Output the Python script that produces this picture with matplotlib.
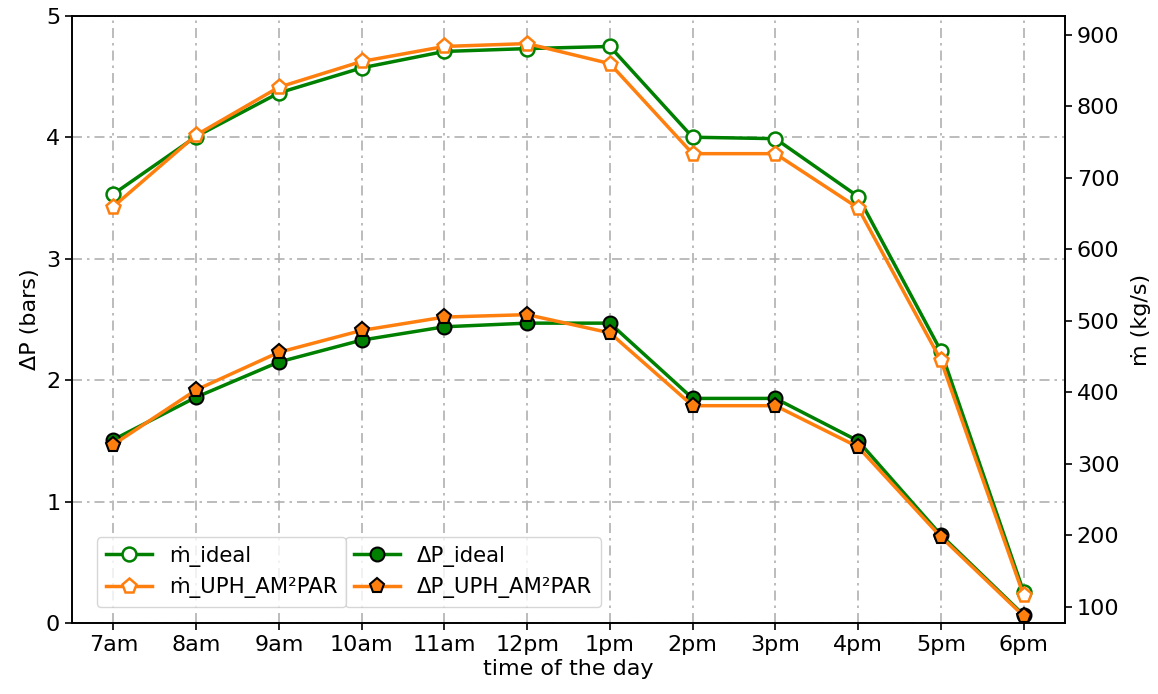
import matplotlib
matplotlib.use("Agg")
import matplotlib.pyplot as plt

# Hourly operating data
hours = ['7am', '8am', '9am', '10am', '11am', '12pm', '1pm', '2pm', '3pm', '4pm', '5pm', '6pm']

# Mass flow rate (kg/s)
m_ideal = [677.5, 758, 819, 854, 877, 881, 884, 757, 755, 674, 458, 121]
m_uph = [660, 760, 827, 863, 884, 888, 860, 734, 734, 658, 445, 116]

# Pressure drop (bars)
dp_ideal = [1.51, 1.86, 2.15, 2.33, 2.44, 2.47, 2.47, 1.85, 1.85, 1.50, 0.725, 0.066]
dp_uph = [1.47, 1.92, 2.23, 2.41, 2.52, 2.54, 2.39, 1.79, 1.79, 1.45, 0.71, 0.058]

GREEN = 'green'
ORANGE = '#ff7f0e'
FS = 16
LEG_FS = 15.3

plt.rcParams['font.family'] = ['DejaVu Sans']
plt.rcParams['font.size'] = FS

fig = plt.figure(figsize=(11.58, 6.94), dpi=100)
ax1 = fig.add_axes([72 / 1158, 1 - 623 / 694, (1065 - 72) / 1158, (623 - 16) / 694])
ax2 = ax1.twinx()

x = list(range(len(hours)))

# Pressure drop on the left axis
l3, = ax1.plot(x, dp_ideal, '-o', color=GREEN, lw=2.5, ms=10,
               mfc=GREEN, mec='black', mew=1.5, label='ΔP_ideal')
l4, = ax1.plot(x, dp_uph, '-p', color=ORANGE, lw=2.5, ms=11,
               mfc=ORANGE, mec='black', mew=1.5, label='ΔP_UPH_AM²PAR')

# Mass flow on the right axis
l1, = ax2.plot(x, m_ideal, '-o', color=GREEN, lw=2.5, ms=10,
               mfc='white', mec=GREEN, mew=1.8, label='ṁ_ideal')
l2, = ax2.plot(x, m_uph, '-p', color=ORANGE, lw=2.5, ms=11,
               mfc='white', mec=ORANGE, mew=1.8, label='ṁ_UPH_AM²PAR')

ax1.set_xlim(-0.5, len(hours) - 0.5)
ax1.set_ylim(0, 5)
ax1.set_xticks(x)
ax1.set_xticklabels(hours)
ax1.set_yticks([0, 1, 2, 3, 4, 5])
ax1.grid(True, linestyle=(0, (6, 3, 1.5, 3)), color='#b0b0b0', lw=1.2)
ax1.set_axisbelow(True)

ax1.set_xlabel('time of the day', fontsize=FS, labelpad=3)
ax1.set_ylabel('ΔP (bars)', fontsize=FS)
ax2.set_ylabel('ṁ (kg/s)', fontsize=FS, labelpad=8)

for ax in (ax1, ax2):
    ax.tick_params(labelsize=FS, length=5, width=1.2)
    for s in ax.spines.values():
        s.set_linewidth(1.2)

leg1 = ax2.legend(handles=[l1, l2], loc='lower left',
                  bbox_to_anchor=(25 / 993, 16 / 607), borderaxespad=0,
                  fontsize=LEG_FS, handlelength=2.2)
leg2 = ax1.legend(handles=[l3, l4], loc='lower left',
                  bbox_to_anchor=(273 / 993, 16 / 607), borderaxespad=0,
                  fontsize=LEG_FS, handlelength=2.2)

fig.savefig('out.png', dpi=100)
